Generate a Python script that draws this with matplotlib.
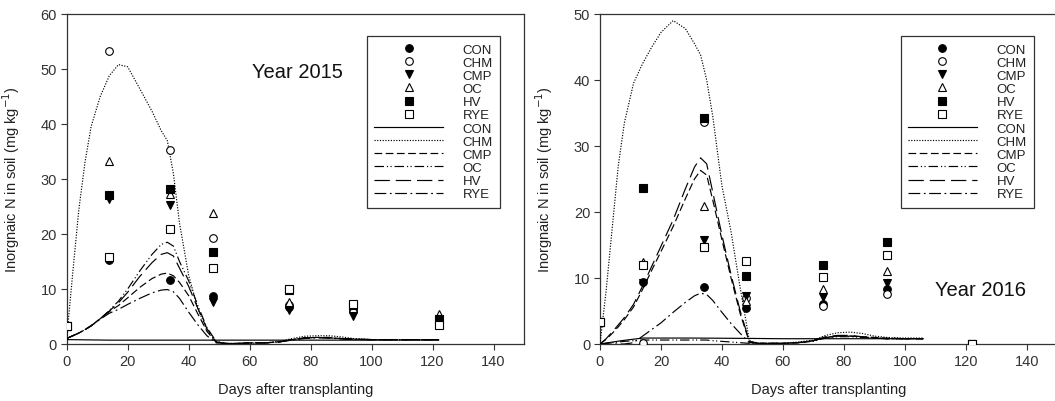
import matplotlib
matplotlib.use("Agg")
import matplotlib.pyplot as plt
from matplotlib.lines import Line2D

plt.rcParams["font.family"] = ["Liberation Sans", "DejaVu Sans"]

# ── Observed data (sampling days) ─────────────────────
days = [0, 14, 34, 48, 73, 94, 122]
treatments = ["CON", "CHM", "CMP", "OC", "HV", "RYE"]

obs15_con = [3.3, 15.2, 11.6, 8.8, 6.8, 6.0, 4.2]
obs15_chm = [3.3, 53.2, 35.3, 19.3, 7.0, 6.5, 4.3]
obs15_cmp = [3.3, 26.4, 25.3, 7.6, 6.2, 5.1, 4.0]
obs15_oc = [3.3, 33.3, 27.3, 23.9, 7.6, 6.5, 5.5]
obs15_hv = [3.3, 27.1, 28.2, 16.8, 9.8, 7.1, 4.5]
obs15_rye = [3.3, 15.8, 20.9, 13.8, 10.0, 7.3, 3.4]

obs16_con = [3.3, 9.4, 8.7, 5.4, 6.0, 8.3, 0.0]
obs16_chm = [3.3, 0.1, 33.6, 7.0, 5.8, 7.6, 0.0]
obs16_cmp = [3.3, 9.3, 15.8, 7.2, 7.1, 9.3, 0.0]
obs16_oc = [3.3, 12.4, 20.9, 6.5, 8.4, 11.1, 0.0]
obs16_hv = [3.3, 23.6, 34.2, 10.3, 11.9, 15.5, 0.0]
obs16_rye = [3.3, 12.0, 14.7, 12.6, 10.2, 13.5, 0.0]

# ── Simulated curves ──────────────────────────────────
t15 = [0, 2, 4, 6, 8, 11, 14, 17, 20, 24, 28, 31, 33, 35, 37, 40, 43, 46, 49,
       52, 56, 60, 65, 70, 74, 78, 82, 86, 90, 94, 100, 110, 122]
sim15_chm = [1.0, 13.0, 24.5, 33.0, 39.5, 45.0, 48.8, 50.8, 50.4, 46.4, 42.3, 38.8, 37.0, 31.0, 22.0, 12.5, 6.5, 2.5, 0.4,
             0.1, 0.0, 0.1, 0.2, 0.5, 1.0, 1.4, 1.5, 1.5, 1.3, 1.0, 0.8, 0.8, 0.8]
sim15_cmp = [1.0, 1.5, 2.0, 2.6, 3.3, 4.6, 5.9, 7.0, 8.4, 10.3, 11.9, 12.7, 12.9, 12.4, 11.2, 8.8, 5.5, 2.3, 0.3,
             0.1, 0.1, 0.2, 0.2, 0.4, 0.8, 1.1, 1.2, 1.1, 1.0, 0.9, 0.8, 0.8, 0.8]
sim15_oc = [1.0, 1.5, 2.0, 2.6, 3.3, 4.6, 6.1, 7.8, 10.0, 13.3, 16.3, 18.1, 18.5, 17.8, 15.0, 11.5, 7.0, 3.0, 0.5,
            0.1, 0.1, 0.2, 0.2, 0.4, 0.8, 1.1, 1.2, 1.2, 1.0, 0.9, 0.8, 0.8, 0.8]
sim15_hv = [1.0, 1.5, 2.0, 2.6, 3.3, 4.6, 6.0, 7.5, 9.4, 12.3, 14.8, 16.3, 16.6, 16.0, 13.8, 10.5, 6.5, 2.8, 0.4,
            0.1, 0.1, 0.2, 0.2, 0.4, 0.8, 1.1, 1.2, 1.1, 1.0, 0.9, 0.8, 0.8, 0.8]
sim15_rye = [1.0, 1.5, 2.0, 2.6, 3.3, 4.5, 5.6, 6.3, 7.2, 8.3, 9.3, 9.8, 9.9, 9.5, 8.3, 5.8, 3.5, 1.5, 0.2,
             0.1, 0.1, 0.2, 0.2, 0.4, 0.7, 1.0, 1.1, 1.1, 0.9, 0.8, 0.8, 0.8, 0.8]
t15_con = [0, 14, 34, 48, 60, 80, 100, 122]
sim15_con = [0.8, 0.7, 0.7, 0.7, 0.7, 0.7, 0.7, 0.7]

t16 = [0, 2, 4, 6, 8, 11, 14, 17, 20, 24, 28, 31, 33, 35, 37, 40, 43, 46, 49,
       52, 56, 60, 65, 70, 74, 78, 82, 86, 90, 94, 100, 106]
sim16_chm = [0.0, 8.0, 17.5, 27.0, 33.5, 39.5, 42.5, 45.0, 47.2, 49.0, 47.8, 45.5, 43.8, 40.0, 34.5, 24.0, 17.0, 8.5, 0.5,
             0.1, 0.1, 0.1, 0.3, 0.6, 1.3, 1.7, 1.8, 1.6, 1.2, 1.0, 0.9, 0.9]
sim16_cmp = [0.0, 0.7, 1.6, 2.6, 3.7, 5.6, 8.3, 11.2, 14.0, 17.8, 22.0, 25.0, 26.3, 25.6, 21.8, 15.8, 10.0, 4.6, 0.3,
             0.1, 0.1, 0.1, 0.2, 0.5, 1.0, 1.2, 1.2, 1.1, 1.0, 0.9, 0.8, 0.8]
sim16_oc = [0.0, 0.1, 0.2, 0.3, 0.4, 0.5, 0.6, 0.6, 0.6, 0.6, 0.6, 0.6, 0.6, 0.6, 0.5, 0.4, 0.3, 0.2, 0.1,
            0.1, 0.1, 0.1, 0.2, 0.4, 0.9, 1.1, 1.1, 1.0, 0.9, 0.8, 0.8, 0.8]
sim16_hv = [0.0, 0.8, 1.8, 2.9, 4.0, 6.0, 8.8, 11.8, 14.8, 18.8, 23.5, 26.8, 28.2, 27.3, 23.0, 16.5, 10.5, 5.0, 0.4,
            0.1, 0.1, 0.1, 0.2, 0.5, 1.1, 1.3, 1.3, 1.1, 0.9, 0.8, 0.8, 0.8]
sim16_rye = [0.0, 0.0, 0.0, 0.0, 0.0, 0.2, 1.2, 2.2, 3.2, 4.8, 6.3, 7.3, 7.7, 7.5, 6.6, 4.8, 3.1, 1.6, 0.2,
             0.1, 0.1, 0.1, 0.2, 0.5, 1.0, 1.2, 1.2, 1.1, 0.9, 0.8, 0.8, 0.8]
t16_con = [0, 7, 14, 30, 48, 60, 80, 106]
sim16_con = [0.0, 0.5, 0.9, 0.9, 0.85, 0.8, 0.8, 0.8]

# ── Styles ────────────────────────────────────────────
markers = {
    "CON": dict(marker="o", mfc="black"),
    "CHM": dict(marker="o", mfc="white"),
    "CMP": dict(marker="v", mfc="black"),
    "OC": dict(marker="^", mfc="white"),
    "HV": dict(marker="s", mfc="black"),
    "RYE": dict(marker="s", mfc="white"),
}
dashes = {
    "CON": (None, None),
    "CHM": (1, 1.3),
    "CMP": (6.5, 3),
    "OC": (8, 2.5, 1, 2, 1, 2.5),
    "HV": (13, 5),
    "RYE": (10, 3, 1.5, 3),
}

fig = plt.figure(figsize=(10.55, 4.02), dpi=100)
ax1 = fig.add_axes([0.0632, 0.1418, 0.4335, 0.8209])
ax2 = fig.add_axes([0.5687, 0.1418, 0.4334, 0.8209])


def draw_panel(ax, obs, sims, ymax, year_text, year_xy, leg_x):
    handles = []
    for name in treatments:
        m = markers[name]
        ax.plot(days, obs[name], linestyle="none", marker=m["marker"],
                mfc=m["mfc"], mec="black", mew=0.8, ms=5.5, zorder=4)
        handles.append(Line2D([], [], linestyle="none", marker=m["marker"],
                              mfc=m["mfc"], mec="black", mew=0.8, ms=5.5,
                              label=name))
    for name in treatments:
        tx, ty = sims[name]
        ln, = ax.plot(tx, ty, color="black", lw=0.85, zorder=3)
        d = dashes[name]
        if d[0] is not None:
            ln.set_dashes(d)
        h = Line2D([], [], color="black", lw=0.85, label=name)
        if d[0] is not None:
            h.set_dashes(d)
        handles.append(h)

    ax.set_xlim(0, 150)
    ax.set_ylim(0, ymax)
    ax.set_xticks(range(0, 141, 20))
    ax.set_yticks(range(0, ymax + 1, 10))
    ax.tick_params(direction="out", length=4, width=0.8, labelsize=10.5,
                   colors="#333333", pad=3)
    for sp in ax.spines.values():
        sp.set_linewidth(0.9)
        sp.set_color("#333333")

    ax.set_xlabel("Days after transplanting", fontsize=10.5, color="#222222")
    ax.set_ylabel("Inorgnaic N in soil (mg kg$^{-1}$)", fontsize=10.5,
                  color="#222222")
    ax.xaxis.set_label_coords(0.5, -0.115)
    ax.yaxis.set_label_coords(-0.098, 0.5)

    ax.text(year_xy[0], year_xy[1], year_text, fontsize=14.5,
            ha="center", va="center", color="#111111")

    leg = ax.legend(handles=handles, loc="upper left",
                    bbox_to_anchor=(leg_x, 0.933), borderaxespad=0,
                    fontsize=9.5, handlelength=5.2, handletextpad=1.5,
                    labelspacing=0.07, borderpad=0.55, numpoints=1,
                    fancybox=False, framealpha=1, edgecolor="#333333")
    leg.get_frame().set_linewidth(0.9)
    for t in leg.get_texts():
        t.set_color("#222222")


obs15 = {"CON": obs15_con, "CHM": obs15_chm, "CMP": obs15_cmp,
         "OC": obs15_oc, "HV": obs15_hv, "RYE": obs15_rye}
sims15 = {"CON": (t15_con, sim15_con), "CHM": (t15, sim15_chm),
          "CMP": (t15, sim15_cmp), "OC": (t15, sim15_oc),
          "HV": (t15, sim15_hv), "RYE": (t15, sim15_rye)}
obs16 = {"CON": obs16_con, "CHM": obs16_chm, "CMP": obs16_cmp,
         "OC": obs16_oc, "HV": obs16_hv, "RYE": obs16_rye}
sims16 = {"CON": (t16_con, sim16_con), "CHM": (t16, sim16_chm),
          "CMP": (t16, sim16_cmp), "OC": (t16, sim16_oc),
          "HV": (t16, sim16_hv), "RYE": (t16, sim16_rye)}

draw_panel(ax1, obs15, sims15, 60, "Year 2015", (75.6, 49.6), 0.657)
draw_panel(ax2, obs16, sims16, 50, "Year 2016", (124.7, 8.3), 0.658)

fig.savefig("out.png", dpi=100)
